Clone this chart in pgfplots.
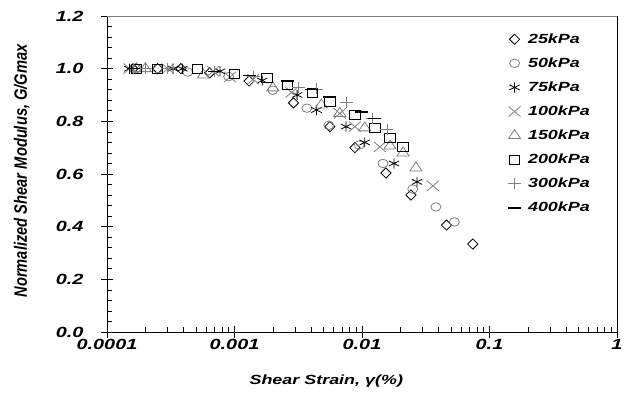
\documentclass[border=0pt]{standalone}
\usepackage{graphicx}
\usepackage{pgfplots}
\pgfplotsset{compat=1.18}
\usepackage{fontspec}
\setmainfont{Liberation Sans}
\definecolor{mgray}{RGB}{128,128,128}
\newcommand{\sq}[1]{\scalebox{1}[0.74]{#1}}
\begin{document}
\begin{tikzpicture}
\begin{axis}[
  scale only axis, width=510bp, height=316bp,
  xmode=log, xmin=1e-4, xmax=1, ymin=0, ymax=1.2,
  axis x line*=bottom, axis y line*=left,
  axis line style={black, line width=0.9bp},
  xtick={1e-4,1e-3,1e-2,1e-1,1},
  xticklabels={0.0001,0.001,0.01,0.1,1},
  ytick={0,0.2,0.4,0.6,0.8,1.0,1.2},
  yticklabels={0.0,0.2,0.4,0.6,0.8,1.0,1.2},
  minor y tick num=4,
  tick align=inside,
  major tick length=6bp, minor tick length=5bp,
  tick style={black, line width=0.7bp},
  extra x ticks={1e-4,1e-3,1e-2,1e-1,1}, extra x tick labels={},
  extra y ticks={0,0.2,0.4,0.6,0.8,1.0,1.2}, extra y tick labels={},
  extra tick style={tick align=outside, major tick length=6bp},
  ticklabel style={font=\fontsize{20}{22}\selectfont\bfseries\itshape, yscale=0.74},
  xticklabel style={yshift=-6bp},
  yticklabel style={xshift=-20bp},
  xlabel={Shear Strain, γ(\%)},
  ylabel={Normalized Shear Modulus, G/Gmax},
  xlabel style={at={(rel axis cs:0.43,0)}, anchor=center, yshift=-49bp, font=\fontsize{18}{20}\selectfont\bfseries\itshape, yscale=0.74},
  ylabel style={at={(rel axis cs:-0.167,0.51)}, anchor=center, rotate=0, font=\fontsize{18}{20}\selectfont\bfseries\itshape, xscale=0.82},
  legend style={at={(rel axis cs:0.786,0.951)}, anchor=north west, draw=none, fill=none,
    font=\fontsize{18}{20}\selectfont\bfseries\itshape, row sep=9bp, column sep=5bp, inner sep=0pt},
  legend image code/.code={\draw[#1] plot coordinates {(0cm,0cm)};},
  legend cell align=left,
  clip=false,
]
\addplot[only marks, mark=square, mark size=3.6bp, mark options={rotate=45, black, line width=0.8bp}] coordinates {
(0.00016,1.0) (0.00025,1.0) (0.00038,1.0) (0.00064,0.984) (0.0013,0.953) (0.0029,0.87) (0.0056,0.78) (0.0088,0.70) (0.0154,0.604) (0.0242,0.52) (0.046,0.406) (0.074,0.334)};
\addlegendentry{\sq{25kPa}}
\addplot[only marks, mark=o, mark size=5bp, mark options={yscale=0.85, mgray, line width=0.8bp}] coordinates {
(0.00017,1.0) (0.00025,1.0) (0.00043,0.987) (0.0009,0.97) (0.002,0.918) (0.0037,0.85) (0.0055,0.785) (0.0095,0.71) (0.0146,0.64) (0.025,0.543) (0.038,0.475) (0.053,0.418)};
\addlegendentry{\sq{50kPa}}
\addplot[only marks, mark=asterisk, mark size=6bp, mark options={yscale=0.85, black, line width=0.8bp}] coordinates {
(0.00015,1.0) (0.00033,1.0) (0.00039,1.0) (0.00077,0.99) (0.00165,0.955) (0.0031,0.90) (0.0044,0.843) (0.0075,0.78) (0.0105,0.72) (0.0178,0.64) (0.027,0.57)};
\addlegendentry{\sq{75kPa}}
\addplot[only marks, mark=x, mark size=8.5bp, mark options={yscale=0.85, mgray, line width=0.8bp}] coordinates {
(0.00015,1.0) (0.0003,1.0) (0.00068,0.99) (0.00092,0.968) (0.0014,0.96) (0.0028,0.91) (0.0067,0.83) (0.0088,0.78) (0.0138,0.703) (0.036,0.555)};
\addlegendentry{\sq{100kPa}}
\addplot[only marks, mark=triangle, mark size=7bp, mark options={yscale=0.85, mgray, line width=0.8bp}] coordinates {
(0.00017,1.0) (0.0002,1.0) (0.00057,0.976) (0.002,0.927) (0.0048,0.862) (0.0067,0.83) (0.0105,0.775) (0.0166,0.706) (0.021,0.68) (0.0265,0.623)};
\addlegendentry{\sq{150kPa}}
\addplot[only marks, mark=square, mark size=5.2bp, mark options={yscale=0.85, black, line width=0.9bp}] coordinates {
(0.00017,1.0) (0.00025,1.0) (0.00051,1.0) (0.001,0.98) (0.0018,0.965) (0.0026,0.938) (0.0041,0.908) (0.0056,0.873) (0.0088,0.824) (0.0126,0.775) (0.0166,0.737) (0.021,0.703)};
\addlegendentry{\sq{200kPa}}
\addplot[only marks, mark=+, mark size=6.5bp, mark options={yscale=0.85, mgray, line width=0.8bp}] coordinates {
(0.00016,1.0) (0.0002,1.0) (0.0003,1.0) (0.0007,0.99) (0.0014,0.97) (0.0032,0.93) (0.0044,0.923) (0.0075,0.87) (0.012,0.81) (0.0157,0.77)};
\addlegendentry{\sq{300kPa}}
\addplot[only marks, mark=-, mark size=6.5bp, mark options={black, line width=1.3bp}] coordinates {
(0.00016,1.0) (0.0007,0.99) (0.0013,0.975) (0.0026,0.953) (0.004,0.92) (0.0056,0.892) (0.010,0.835) (0.0126,0.81)};
\addlegendentry{\sq{400kPa}}
\coordinate (ll) at (rel axis cs:0,0);
\coordinate (ur) at (rel axis cs:1,1);
\draw[mgray, line width=0.6bp] (rel axis cs:0,1) -- (rel axis cs:1,1);
\draw[black, line width=0.6bp] (rel axis cs:1,0) -- (rel axis cs:1,1);
\end{axis}
\pgfresetboundingbox
\path[use as bounding box] ([xshift=-107bp,yshift=-64bp]ll) rectangle ([xshift=19bp,yshift=16bp]ur);
\end{tikzpicture}
\end{document}
